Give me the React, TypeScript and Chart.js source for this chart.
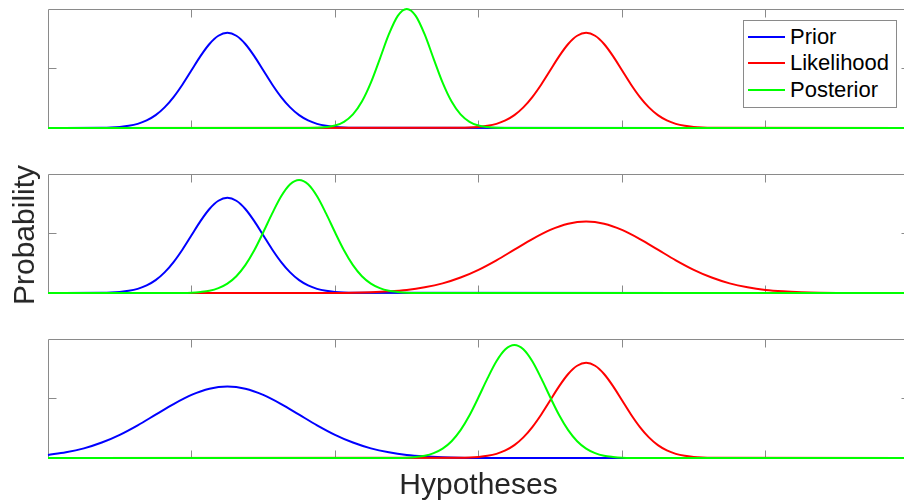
import React, { useEffect, useRef } from "react";
import { Chart, registerables } from "chart.js";

Chart.register(...registerables);

type Pt = [number, number];

// ---- data ----
const seriesLabels = ["Prior", "Likelihood", "Posterior"];
const seriesColors = ["rgb(0,0,255)", "rgb(255,0,0)", "rgb(0,255,0)"];
const xTicks = [1, 2, 3, 4, 5];
const yTicks = [0.5];

const panel1Prior: Pt[] = [
  [0, 0], [0.375, 0.002], [0.4375, 0.004], [0.5, 0.009], [0.5625, 0.018], [0.625, 0.035], [0.6875, 0.064],
  [0.75, 0.108], [0.8125, 0.173], [0.875, 0.26], [0.9375, 0.366], [1.0, 0.485], [1.0625, 0.604], [1.125, 0.706],
  [1.1875, 0.775], [1.25, 0.8], [1.3125, 0.775], [1.375, 0.706], [1.4375, 0.604], [1.5, 0.485], [1.5625, 0.366],
  [1.625, 0.26], [1.6875, 0.173], [1.75, 0.108], [1.8125, 0.064], [1.875, 0.035], [1.9375, 0.018], [2.0, 0.009],
  [2.0625, 0.004], [2.125, 0.002], [6, 0],
];
const panel1Likelihood: Pt[] = [
  [0, 0], [2.875, 0.002], [2.9375, 0.004], [3.0, 0.009], [3.0625, 0.018], [3.125, 0.035], [3.1875, 0.064],
  [3.25, 0.108], [3.3125, 0.173], [3.375, 0.26], [3.4375, 0.366], [3.5, 0.485], [3.5625, 0.604], [3.625, 0.706],
  [3.6875, 0.775], [3.75, 0.8], [3.8125, 0.775], [3.875, 0.706], [3.9375, 0.604], [4.0, 0.485], [4.0625, 0.366],
  [4.125, 0.26], [4.1875, 0.173], [4.25, 0.108], [4.3125, 0.064], [4.375, 0.035], [4.4375, 0.018], [4.5, 0.009],
  [4.5625, 0.004], [4.625, 0.002], [6, 0],
];
const panel1Posterior: Pt[] = [
  [0, 0], [1.8125, 0.001], [1.875, 0.002], [1.9375, 0.008], [2.0, 0.021], [2.0625, 0.052], [2.125, 0.114],
  [2.1875, 0.222], [2.25, 0.381], [2.3125, 0.581], [2.375, 0.786], [2.4375, 0.942], [2.5, 1.0], [2.5625, 0.942],
  [2.625, 0.786], [2.6875, 0.581], [2.75, 0.381], [2.8125, 0.222], [2.875, 0.114], [2.9375, 0.052], [3.0, 0.021],
  [3.0625, 0.008], [3.125, 0.002], [3.1875, 0.001], [6, 0],
];

const panel2Prior: Pt[] = [
  [0, 0], [0.375, 0.002], [0.4375, 0.004], [0.5, 0.009], [0.5625, 0.018], [0.625, 0.035], [0.6875, 0.064],
  [0.75, 0.108], [0.8125, 0.173], [0.875, 0.26], [0.9375, 0.366], [1.0, 0.485], [1.0625, 0.604], [1.125, 0.706],
  [1.1875, 0.775], [1.25, 0.8], [1.3125, 0.775], [1.375, 0.706], [1.4375, 0.604], [1.5, 0.485], [1.5625, 0.366],
  [1.625, 0.26], [1.6875, 0.173], [1.75, 0.108], [1.8125, 0.064], [1.875, 0.035], [1.9375, 0.018], [2.0, 0.009],
  [2.0625, 0.004], [2.125, 0.002], [6, 0],
];
const panel2Likelihood: Pt[] = [
  [0, 0], [2.0, 0.001], [2.125, 0.003], [2.25, 0.007], [2.375, 0.014], [2.5, 0.026], [2.625, 0.048], [2.75, 0.081],
  [2.875, 0.13], [3.0, 0.195], [3.125, 0.275], [3.25, 0.364], [3.375, 0.453], [3.5, 0.53], [3.625, 0.582],
  [3.75, 0.6], [3.875, 0.582], [4.0, 0.53], [4.125, 0.453], [4.25, 0.364], [4.375, 0.275], [4.5, 0.195],
  [4.625, 0.13], [4.75, 0.081], [4.875, 0.048], [5.0, 0.026], [5.125, 0.014], [5.25, 0.007], [5.375, 0.003],
  [5.5, 0.001], [6, 0],
];
const panel2Posterior: Pt[] = [
  [0, 0], [0.9375, 0.001], [1.0, 0.003], [1.0625, 0.009], [1.125, 0.019], [1.1875, 0.041], [1.25, 0.079],
  [1.3125, 0.141], [1.375, 0.234], [1.4375, 0.359], [1.5, 0.51], [1.5625, 0.669], [1.625, 0.813], [1.6875, 0.914],
  [1.75, 0.95], [1.8125, 0.914], [1.875, 0.813], [1.9375, 0.669], [2.0, 0.51], [2.0625, 0.359], [2.125, 0.234],
  [2.1875, 0.141], [2.25, 0.079], [2.3125, 0.041], [2.375, 0.019], [2.4375, 0.009], [2.5, 0.003], [2.5625, 0.001],
  [6, 0],
];

const panel3Prior: Pt[] = [
  [0, 0.026], [0.125, 0.048], [0.25, 0.081], [0.375, 0.13], [0.5, 0.195], [0.625, 0.275], [0.75, 0.364],
  [0.875, 0.453], [1.0, 0.53], [1.125, 0.582], [1.25, 0.6], [1.375, 0.582], [1.5, 0.53], [1.625, 0.453],
  [1.75, 0.364], [1.875, 0.275], [2.0, 0.195], [2.125, 0.13], [2.25, 0.081], [2.375, 0.048], [2.5, 0.026],
  [2.625, 0.014], [2.75, 0.007], [2.875, 0.003], [3.0, 0.001], [6, 0],
];
const panel3Likelihood: Pt[] = [
  [0, 0], [2.875, 0.002], [2.9375, 0.004], [3.0, 0.009], [3.0625, 0.018], [3.125, 0.035], [3.1875, 0.064],
  [3.25, 0.108], [3.3125, 0.173], [3.375, 0.26], [3.4375, 0.366], [3.5, 0.485], [3.5625, 0.604], [3.625, 0.706],
  [3.6875, 0.775], [3.75, 0.8], [3.8125, 0.775], [3.875, 0.706], [3.9375, 0.604], [4.0, 0.485], [4.0625, 0.366],
  [4.125, 0.26], [4.1875, 0.173], [4.25, 0.108], [4.3125, 0.064], [4.375, 0.035], [4.4375, 0.018], [4.5, 0.009],
  [4.5625, 0.004], [4.625, 0.002], [6, 0],
];
const panel3Posterior: Pt[] = [
  [0, 0], [2.4375, 0.001], [2.5, 0.003], [2.5625, 0.009], [2.625, 0.019], [2.6875, 0.041], [2.75, 0.079],
  [2.8125, 0.141], [2.875, 0.234], [2.9375, 0.359], [3.0, 0.51], [3.0625, 0.669], [3.125, 0.813], [3.1875, 0.914],
  [3.25, 0.95], [3.3125, 0.914], [3.375, 0.813], [3.4375, 0.669], [3.5, 0.51], [3.5625, 0.359], [3.625, 0.234],
  [3.6875, 0.141], [3.75, 0.079], [3.8125, 0.041], [3.875, 0.019], [3.9375, 0.009], [4.0, 0.003], [4.0625, 0.001],
  [6, 0],
];

const panels: { series: Pt[][]; top: number; bottom: number }[] = [
  { series: [panel1Prior, panel1Likelihood, panel1Posterior], top: 9, bottom: 128 },
  { series: [panel2Prior, panel2Likelihood, panel2Posterior], top: 174, bottom: 293 },
  { series: [panel3Prior, panel3Likelihood, panel3Posterior], top: 339, bottom: 458 },
];

const CANVAS_W = 920;
const CANVAS_H = 502;
const AXIS_LEFT = 48;
const AXIS_RIGHT = 909;
const AXIS_COLOR = "#8a8a8a";
const TEXT_COLOR = "#262626";
const FONT = "'Liberation Sans', Arial, Helvetica, sans-serif";

const boxPlugin = {
  id: "matlabBox",
  beforeDatasetsDraw(chart: any) {
    const { ctx, chartArea: a, scales } = chart;
    const snap = (v: number) => Math.floor(v) + 0.5;
    const L = snap(a.left), R = snap(a.right), T = snap(a.top), B = snap(a.bottom);
    ctx.save();
    ctx.strokeStyle = AXIS_COLOR;
    ctx.lineWidth = 1;
    ctx.beginPath();
    ctx.rect(L, T, R - L, B - T);
    for (const t of xTicks) {
      const px = snap(scales.x.getPixelForValue(t));
      ctx.moveTo(px, T);
      ctx.lineTo(px, T + 8);
      ctx.moveTo(px, B);
      ctx.lineTo(px, B - 8);
    }
    for (const t of yTicks) {
      const py = snap(scales.y.getPixelForValue(t));
      ctx.moveTo(L, py);
      ctx.lineTo(L + 8, py);
      ctx.moveTo(R, py);
      ctx.lineTo(R - 8, py);
    }
    ctx.stroke();
    ctx.restore();
  },
};

function Panel({ series, top, bottom }: { series: Pt[][]; top: number; bottom: number }) {
  const ref = useRef<HTMLCanvasElement | null>(null);
  useEffect(() => {
    if (!ref.current) return;
    const chart = new Chart(ref.current, {
      type: "line",
      data: {
        datasets: series.map((s, i) => ({
          label: seriesLabels[i],
          data: s.map(([x, y]) => ({ x, y })),
          borderColor: seriesColors[i],
          backgroundColor: seriesColors[i],
          borderWidth: 2,
          pointRadius: 0,
          fill: false,
          clip: 2,
          cubicInterpolationMode: "monotone",
          order: 3 - i,
        })),
      },
      options: {
        animation: false,
        responsive: false,
        devicePixelRatio: 1,
        events: [],
        layout: {
          padding: { left: AXIS_LEFT, right: CANVAS_W - AXIS_RIGHT, top, bottom: CANVAS_H - bottom },
        },
        scales: {
          x: { type: "linear", min: 0, max: 6, display: false },
          y: { type: "linear", min: 0, max: 1, display: false },
        },
        plugins: { legend: { display: false }, tooltip: { enabled: false } },
      },
      plugins: [boxPlugin],
    } as any);
    return () => chart.destroy();
  }, [series, top, bottom]);
  return (
    <canvas
      ref={ref}
      width={CANVAS_W}
      height={CANVAS_H}
      style={{ position: "absolute", left: 0, top: 0, width: CANVAS_W, height: CANVAS_H }}
    />
  );
}

const legendRows = [36.7, 63.3, 90];

export default function App() {
  return (
    <div
      style={{
        position: "fixed",
        left: 0,
        top: 0,
        width: 904,
        height: 502,
        overflow: "hidden",
        background: "#fff",
        fontFamily: FONT,
      }}
    >
      {panels.map((p, i) => (
        <Panel key={i} series={p.series} top={p.top} bottom={p.bottom} />
      ))}

      {/* legend */}
      <div
        style={{
          position: "absolute",
          left: 743,
          top: 20,
          width: 154,
          height: 88,
          boxSizing: "border-box",
          border: `1px solid ${AXIS_COLOR}`,
          background: "#fff",
        }}
      />
      {seriesLabels.map((lab, i) => (
        <React.Fragment key={lab}>
          <div
            style={{
              position: "absolute",
              left: 748,
              top: legendRows[i] - 1,
              width: 37,
              height: 2,
              background: seriesColors[i],
            }}
          />
          <div
            style={{
              position: "absolute",
              left: 790,
              top: legendRows[i] - 11,
              fontSize: 22,
              lineHeight: "22px",
              color: "#000",
              whiteSpace: "nowrap",
            }}
          >
            {lab}
          </div>
        </React.Fragment>
      ))}

      {/* axis labels */}
      <div
        style={{
          position: "absolute",
          left: 24,
          top: 234.5,
          fontSize: 30,
          lineHeight: "30px",
          color: TEXT_COLOR,
          whiteSpace: "nowrap",
          transform: "translate(-50%, -50%) rotate(-90deg)",
        }}
      >
        Probability
      </div>
      <div
        style={{
          position: "absolute",
          left: 478.5,
          top: 469,
          fontSize: 30,
          lineHeight: "30px",
          color: TEXT_COLOR,
          whiteSpace: "nowrap",
          transform: "translateX(-50%)",
        }}
      >
        Hypotheses
      </div>
    </div>
  );
}
